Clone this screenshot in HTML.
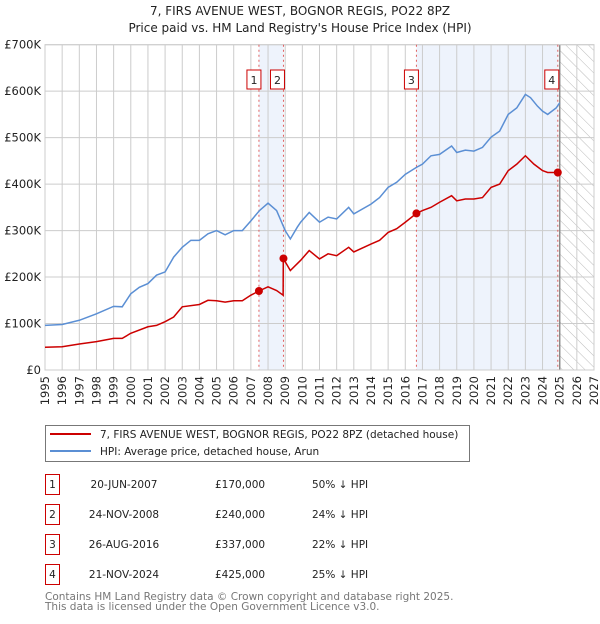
<!DOCTYPE html>
<html><head><meta charset="utf-8"><style>
body{margin:0;background:#fff;font-family:"DejaVu Sans",sans-serif;}
svg text{font-family:"DejaVu Sans","Liberation Sans",sans-serif;}
</style></head><body>
<svg id="c" width="600" height="620" xmlns="http://www.w3.org/2000/svg">
<defs><pattern id="hatch" width="8" height="8" patternUnits="userSpaceOnUse" patternTransform="rotate(-45)"><line x1="0" y1="0" x2="0" y2="8" stroke="#bbb" stroke-width="1"/></pattern></defs>
<text x="300" y="15" text-anchor="middle" font-size="12" fill="#222">7, FIRS AVENUE WEST, BOGNOR REGIS, PO22 8PZ</text>
<text x="300" y="32" text-anchor="middle" font-size="12" fill="#222">Price paid vs. HM Land Registry's House Price Index (HPI)</text>
<g id="plot"></g>
<g>
<rect x="45.5" y="425.5" width="424" height="36" fill="#fff" stroke="#777"/>
<line x1="50" y1="434" x2="91" y2="434" stroke="#cc0000" stroke-width="2"/>
<text x="100" y="438" font-size="10.5" fill="#222">7, FIRS AVENUE WEST, BOGNOR REGIS, PO22 8PZ (detached house)</text>
<line x1="50" y1="451" x2="91" y2="451" stroke="#5b8fd4" stroke-width="2"/>
<text x="100" y="455" font-size="10.5" fill="#222">HPI: Average price, detached house, Arun</text>
</g>
<g id="table" font-size="10.5" fill="#222"></g>
<text x="45" y="600" font-size="10.5" fill="#777">Contains HM Land Registry data © Crown copyright and database right 2025.</text>
<text x="45" y="610" font-size="10.5" fill="#777">This data is licensed under the Open Government Licence v3.0.</text>
</svg>
<script>
const hpiYears=[1995,1996,1997,1998,1999,1999.5,2000,2000.5,2001,2001.5,2002,2002.5,2003,2003.5,2004,2004.5,2005,2005.5,2006,2006.5,2007,2007.5,2008,2008.5,2009,2009.3,2009.7,2009.9,2010.4,2011,2011.5,2012,2012.7,2013,2014,2014.5,2015,2015.5,2016,2016.65,2017,2017.5,2018,2018.7,2019,2019.5,2020,2020.5,2021,2021.5,2022,2022.5,2023,2023.3,2023.7,2024,2024.3,2024.8,2025];
const hpiValues=[96,98,107,121,137,136,164,178,186,204,211,243,264,279,279,293,300,291,300,300,321,343,359,343,300,282,307,318,339,318,329,325,350,336,357,371,393,404,421,436,443,461,464,482,468,473,471,479,501,514,550,564,593,586,568,557,550,564,575];
const ppYears=[1995,1996,1997,1998,1999,1999.5,2000,2001,2001.5,2002,2002.5,2003,2004,2004.5,2005,2005.5,2006,2006.5,2007,2007.47,2008,2008.5,2008.88,2008.89,2009.3,2009.9,2010.4,2011,2011.5,2012,2012.7,2013,2014,2014.5,2015,2015.5,2016,2016.65,2017,2017.5,2018,2018.7,2019,2019.5,2020,2020.5,2021,2021.5,2022,2022.5,2023,2023.5,2024,2024.3,2024.89];
const ppValues=[49,50,56,61,68,68,79,93,96,104,114,136,141,150,149,146,149,149,161,170,179,171,161,240,214,236,257,239,250,246,264,254,271,279,296,304,318,337,343,350,361,375,364,368,368,371,393,400,429,443,461,443,429,425,425];
const saleLabels=["1","2","3","4"];
const saleYears=[2007.47,2008.9,2016.65,2024.89];
const saleValues=[170,240,337,425];
const saleDates=["20-JUN-2007","24-NOV-2008","26-AUG-2016","21-NOV-2024"];
const salePrices=["£170,000","£240,000","£337,000","£425,000"];
const saleDiffs=["50% ↓ HPI","24% ↓ HPI","22% ↓ HPI","25% ↓ HPI"];
const yTicks=[0,100,200,300,400,500,600,700];
const yTickLabels=["£0","£100K","£200K","£300K","£400K","£500K","£600K","£700K"];
const xTicks=[];for(let y=1995;y<=2027;y++)xTicks.push(y);
const X0=45,X1=594,Y0=370,Y1=44.7;
const xs=v=>X0+(v-1995)/(2027-1995)*(X1-X0);
const ys=v=>Y0-(v/700)*(Y0-Y1);
const NS="http://www.w3.org/2000/svg";
const g=document.getElementById('plot');
function mk(tag,attrs,parent){const e=document.createElementNS(NS,tag);for(const k in attrs)e.setAttribute(k,attrs[k]);(parent||g).appendChild(e);return e;}
let e;
e=mk('rect',{x:xs(saleYears[0]),y:Y1,width:xs(saleYears[1])-xs(saleYears[0]),height:Y0-Y1,fill:'#eef3fc'});


e=mk('rect',{x:xs(saleYears[2]),y:Y1,width:xs(saleYears[3])-xs(saleYears[2]),height:Y0-Y1,fill:'#eef3fc'});


e=mk('rect',{x:xs(2025),y:Y1,width:X1-xs(2025),height:Y0-Y1,fill:'url(#hatch)'});


xTicks.forEach((t)=>{
 e=mk('line',{x1:xs(t),x2:xs(t),y1:Y1,y2:Y0,stroke:'#ccc','stroke-width':1});
 
 
 e=mk('text',{x:0,y:0,'font-size':11.5,fill:'#222','text-anchor':'end',transform:`translate(${xs(t)+4},${Y0+6}) rotate(-90)`});
 e.textContent=t;
 
 
});
yTicks.forEach((t,i)=>{
 e=mk('line',{x1:X0,x2:X1,y1:ys(t),y2:ys(t),stroke:'#ccc','stroke-width':1});
 
 
 e=mk('text',{x:X0-4,y:ys(t)+4,'font-size':11.5,fill:'#222','text-anchor':'end'});
 e.textContent=yTickLabels[i];
 
 
});
e=mk('line',{x1:xs(2025),x2:xs(2025),y1:Y1,y2:Y0,stroke:'#888','stroke-width':1.5});


e=mk('rect',{x:X0,y:Y1,width:X1-X0,height:Y0-Y1,fill:'none',stroke:'#ccc'});


saleYears.forEach((sy,i)=>{
 e=mk('line',{x1:xs(sy),x2:xs(sy),y1:Y1,y2:Y0,stroke:'#e06060','stroke-dasharray':'2,3','stroke-width':1});
 
 
});
e=mk('polyline',{points:hpiYears.map((y,i)=>xs(y)+','+ys(hpiValues[i])).join(' '),fill:'none',stroke:'#5b8fd4','stroke-width':1.5});


e=mk('polyline',{points:ppYears.map((y,i)=>xs(y)+','+ys(ppValues[i])).join(' '),fill:'none',stroke:'#cc0000','stroke-width':1.5});


saleYears.forEach((sy,i)=>{
 e=mk('circle',{cx:xs(sy),cy:ys(saleValues[i]),r:4,fill:'#cc0000'});
 
 
 const cx=(i==0||i==2)?xs(sy)-5:xs(sy)-6;
 e=mk('rect',{x:cx-7,y:70,width:14,height:19,fill:'#fff',stroke:'#cc0000'});
 
 
 e=mk('text',{x:cx,y:84,'font-size':11,fill:'#222','text-anchor':'middle'});
 e.textContent=saleLabels[i];
 
 
});
const tb=document.getElementById('table');
const rowY=[485,515,545,575];
saleLabels.forEach((l,i)=>{
 const y=rowY[i];
 e=mk('rect',{x:45.5,y:y-10.5,width:14,height:20,fill:'#fff',stroke:'#cc0000'},tb);
 
 
 e=mk('text',{x:52.5,y:y+3,'text-anchor':'middle'},tb);e.textContent=l;
 
 
 e=mk('text',{x:124,y:y+3,'text-anchor':'middle'},tb);e.textContent=saleDates[i];
 
 
 e=mk('text',{x:215,y:y+3},tb);e.textContent=salePrices[i];
 
 
 e=mk('text',{x:312,y:y+3},tb);e.textContent=saleDiffs[i];
 
 
});
</script>
</body></html>
